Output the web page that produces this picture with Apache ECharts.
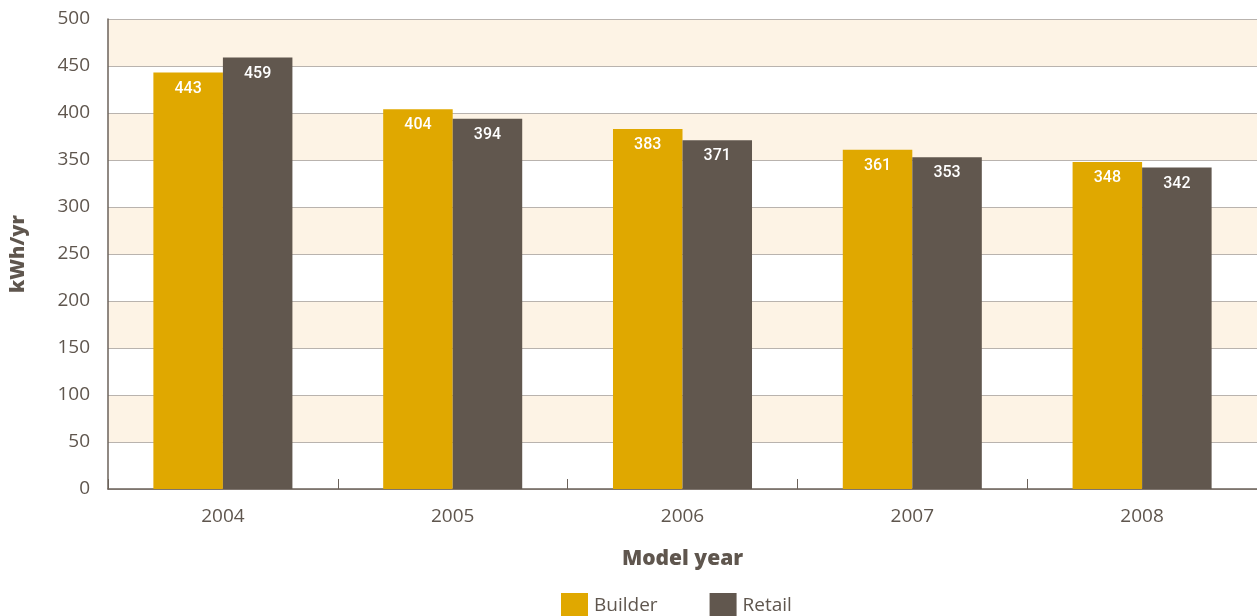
<!DOCTYPE html>
<html><head><meta charset="utf-8">
<script src="https://cdn.jsdelivr.net/npm/echarts@6/dist/echarts.min.js"></script>
<style>html,body{margin:0;padding:0;background:#fff}#c{width:1257px;height:616px}</style>
</head><body><div id="c"></div>
<script>
const categories = ['2004','2005','2006','2007','2008'];
const builder = [443,404,383,361,348];
const retail = [459,394,371,353,342];
const seriesNames = ['Builder','Retail'];

const txt = '#5f564e';
const font = 'Open Sans';
const chart = echarts.init(document.getElementById('c'));
const lbl = {show:true, position:'insideTop', distance:8, color:'#fff', fontFamily:'Roboto', fontWeight:500, fontSize:16};
chart.setOption({
  animation:false,
  grid:{left:108, right:0, top:19, bottom:127, outerBoundsMode:'none', containLabel:false},
  legend:{top:588, left:556, itemWidth:27, itemHeight:25, itemGap:52, icon:'rect',
    textStyle:{color:txt, fontFamily:font, fontSize:19, padding:[0,0,0,1]}, data:seriesNames},
  xAxis:{type:'category', data:categories, boundaryGap:true,
    name:'Model year', nameLocation:'middle', nameGap:60,
    nameTextStyle:{color:txt, fontFamily:font, fontWeight:800, fontSize:21},
    axisLine:{lineStyle:{color:'#6b625a', width:1.5}},
    axisTick:{show:true, inside:true, length:10, lineStyle:{color:'#6b625a'}},
    axisLabel:{color:txt, fontFamily:font, fontSize:19, margin:18}},
  yAxis:{type:'value', min:0, max:500, interval:50,
    name:'kWh/yr', nameLocation:'middle', nameGap:80, nameRotate:90,
    nameTextStyle:{color:txt, fontFamily:font, fontWeight:800, fontSize:20},
    axisLine:{show:true, lineStyle:{color:'#6b625a', width:1.5}},
    axisTick:{show:false},
    axisLabel:{color:txt, fontFamily:font, fontSize:19, margin:18},
    splitLine:{show:true, lineStyle:{color:'#b9b3ae', width:1.2}},
    splitArea:{show:true, areaStyle:{color:['#ffffff','#fdf3e5']}}},
  series:[
    {name:seriesNames[0], type:'bar', data:builder, barGap:'0%', barCategoryGap:'39.5%',
      itemStyle:{color:'#e0a800'}, label:lbl},
    {name:seriesNames[1], type:'bar', data:retail,
      itemStyle:{color:'#61574e'}, label:lbl}
  ]
});
</script></body></html>
